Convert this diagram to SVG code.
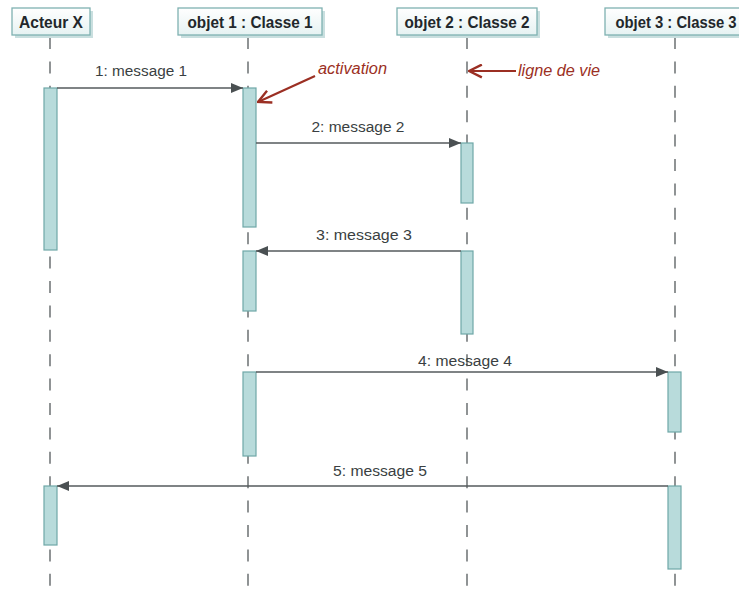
<svg xmlns="http://www.w3.org/2000/svg" width="739" height="595" viewBox="0 0 739 595">
<defs>
<marker id="fill" viewBox="0 0 12 10" refX="12" refY="5" markerWidth="12" markerHeight="10" markerUnits="userSpaceOnUse" orient="auto">
<path d="M0,0 L12,5 L0,10 Z" fill="#4a5052"/>
</marker>
<marker id="open" viewBox="0 0 14 14" refX="13" refY="7" markerWidth="15" markerHeight="15" markerUnits="userSpaceOnUse" orient="auto">
<path d="M1,1 L13,7 L1,13" fill="none" stroke="#9b2f23" stroke-width="2.2"/>
</marker>
<linearGradient id="hg" x1="0" y1="0" x2="0" y2="1">
<stop offset="0" stop-color="#ffffff"/>
<stop offset="1" stop-color="#e6f2f2"/>
</linearGradient>
</defs>
<style>
.hdr{fill:url(#hg);stroke:#7fb1b1;stroke-width:1.3}
.shd{fill:#c9dfdf}
.htxt{font-family:"Liberation Sans Narrow","Liberation Sans",Arial,sans-serif;font-weight:bold;font-size:16.5px;fill:#22272b;text-anchor:middle}
.life{stroke:#555a5c;stroke-width:1.3;stroke-dasharray:12 12.4;fill:none}
.act{fill:#b8dbdb;stroke:#6ea7a7;stroke-width:1.2}
.msg{stroke:#555a5c;stroke-width:1.3;fill:none;marker-end:url(#fill)}
.mtxt{font-family:"Liberation Sans",Arial,sans-serif;font-size:14px;fill:#3a3f42;text-anchor:middle}
.note{font-family:"Liberation Sans",Arial,sans-serif;font-style:italic;font-size:16px;fill:#9b2f23}
.nline{stroke:#9b2f23;stroke-width:2.2;fill:none;marker-end:url(#open)}
</style>
<rect width="739" height="595" fill="#ffffff"/>

<g id="lifelines">
<line class="life" x1="50" y1="37" x2="50" y2="595"/>
<line class="life" x1="248" y1="37" x2="248" y2="595"/>
<line class="life" x1="467" y1="37" x2="467" y2="595"/>
<line class="life" x1="675" y1="37" x2="675" y2="595"/>
</g>

<g id="acteur-x">
<rect class="shd" x="15" y="11" width="78" height="27"/>
<rect class="hdr" x="12" y="8" width="78" height="27"/>
<text class="htxt" x="51" y="27.5" textLength="64" lengthAdjust="spacingAndGlyphs">Acteur X</text>
<rect class="act" x="44" y="88" width="13" height="162"/>
<rect class="act" x="44" y="486" width="13" height="59"/>
</g>

<g id="objet1">
<rect class="shd" x="181" y="11" width="144" height="27"/>
<rect class="hdr" x="178" y="8" width="144" height="27"/>
<text class="htxt" x="250" y="27.5" textLength="125" lengthAdjust="spacingAndGlyphs">objet 1 : Classe 1</text>
<rect class="act" x="243" y="88" width="13" height="139"/>
<rect class="act" x="243" y="251" width="13" height="60"/>
<rect class="act" x="243" y="372" width="13" height="84"/>
</g>

<g id="objet2">
<rect class="shd" x="400" y="11" width="140" height="27"/>
<rect class="hdr" x="397" y="8" width="140" height="27"/>
<text class="htxt" x="467" y="27.5" textLength="125" lengthAdjust="spacingAndGlyphs">objet 2 : Classe 2</text>
<rect class="act" x="461" y="143" width="12" height="60"/>
<rect class="act" x="461" y="251" width="12" height="83"/>
</g>

<g id="objet3">
<rect class="shd" x="608" y="11" width="140" height="27"/>
<rect class="hdr" x="605" y="8" width="140" height="27"/>
<text class="htxt" x="676" y="27.5" textLength="121" lengthAdjust="spacingAndGlyphs">objet 3 : Classe 3</text>
<rect class="act" x="668" y="372" width="13" height="60"/>
<rect class="act" x="668" y="486" width="13" height="83"/>
</g>

<g id="messages">
<line class="msg" x1="57" y1="88" x2="243" y2="88"/>
<text class="mtxt" x="141" y="76" textLength="92" lengthAdjust="spacingAndGlyphs">1: message 1</text>
<line class="msg" x1="256" y1="143" x2="461" y2="143"/>
<text class="mtxt" x="358" y="132" textLength="93" lengthAdjust="spacingAndGlyphs">2: message 2</text>
<line class="msg" x1="461" y1="251" x2="256" y2="251"/>
<text class="mtxt" x="364" y="240" textLength="96" lengthAdjust="spacingAndGlyphs">3: message 3</text>
<line class="msg" x1="256" y1="372" x2="668" y2="372"/>
<text class="mtxt" x="465" y="366" textLength="94" lengthAdjust="spacingAndGlyphs">4: message 4</text>
<line class="msg" x1="668" y1="486" x2="57" y2="486"/>
<text class="mtxt" x="380" y="476" textLength="94" lengthAdjust="spacingAndGlyphs">5: message 5</text>
</g>

<g id="annotations">
<text class="note" x="318" y="74" textLength="69" lengthAdjust="spacingAndGlyphs">activation</text>
<line class="nline" x1="315" y1="76" x2="258" y2="102"/>
<text class="note" x="518" y="76" textLength="82" lengthAdjust="spacingAndGlyphs">ligne de vie</text>
<line class="nline" x1="516" y1="71" x2="469" y2="71"/>
</g>
</svg>
